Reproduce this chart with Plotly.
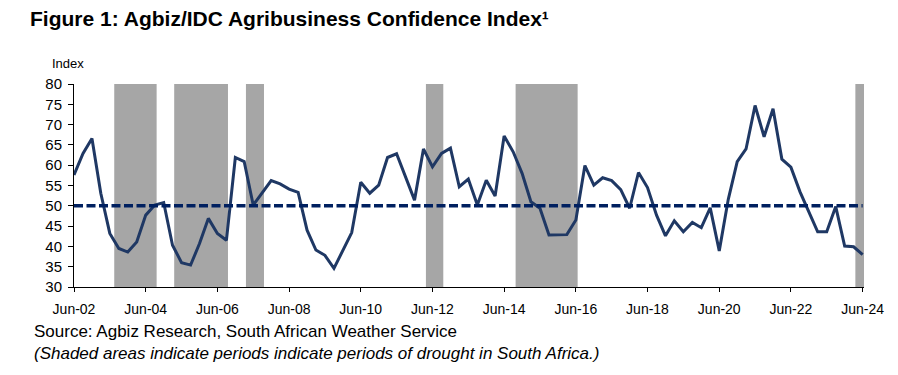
import pandas as pd
import plotly.graph_objects as go

# Quarterly Agbiz/IDC Agribusiness Confidence Index, Q2 2002 .. Q2 2024
abci_values = [
    57.6, 62.9, 66.6,
    53.1, 43.2, 39.5, 38.6,
    41.1, 47.7, 50.2, 50.8,
    40.3, 36.0, 35.4, 40.7,
    46.9, 43.2, 41.5, 61.9,
    60.9, 50.2, 53.3, 56.2,
    55.4, 54.1, 53.3, 44.0,
    39.1, 37.8, 34.6, 39.1,
    43.4, 55.8, 53.1, 55.1,
    61.9, 62.8, 57.2, 51.4,
    64.0, 59.6, 62.9, 64.2,
    54.7, 56.6, 50.2, 56.3,
    52.4, 67.2, 63.3, 58.0,
    51.0, 49.4, 42.8, 42.9,
    42.9, 46.5, 59.9, 55.1,
    56.9, 56.2, 54.0, 49.4,
    58.2, 54.5, 47.7, 42.6,
    46.3, 43.6, 45.9, 44.6,
    49.5, 38.9, 51.6, 60.9,
    64.0, 74.7, 67.0, 73.9,
    61.5, 59.5, 53.5, 48.5,
    43.6, 43.6, 49.8, 40.1,
    39.9, 38.0,
]
quarters = pd.date_range("2002-06-01", periods=len(abci_values), freq="3MS")
neutral_level = [50] * len(abci_values)

# Drought periods (shaded)
drought_start = ["2003-07-16", "2005-03-18", "2007-03-19", "2012-03-26", "2014-09-26", "2024-03-19"]
drought_end = ["2004-09-20", "2006-09-17", "2007-09-19", "2012-09-19", "2016-06-19", "2024-06-15"]

y_ticks = [30, 35, 40, 45, 50, 55, 60, 65, 70, 75, 80]

FONT = "Liberation Sans, Arial, sans-serif"
OFF = 8  # page body margin compensation

fig = go.Figure()

for s, e in zip(drought_start, drought_end):
    fig.add_shape(type="rect", xref="x", yref="y", x0=s, x1=e, y0=30, y1=80,
                  fillcolor="#A6A6A6", line_width=0, layer="below")

fig.add_trace(go.Scatter(x=quarters, y=abci_values, mode="lines",
                         line=dict(color="#1F3864", width=3), showlegend=False))
fig.add_trace(go.Scatter(x=quarters, y=neutral_level, mode="lines",
                         line=dict(color="#002060", width=3.5, dash="9px,3.5px"),
                         showlegend=False))

fig.update_layout(
    width=898, height=375,
    margin=dict(l=74 - OFF, r=42, t=84 - OFF, b=96),
    paper_bgcolor="white", plot_bgcolor="white",
    font=dict(family=FONT, color="black"),
    title=dict(text="<b>Figure 1: Agbiz/IDC Agribusiness Confidence Index¹</b>",
               x=(30 - OFF) / 898, xanchor="left", xref="container",
               y=1 - (19 - OFF) / 375, yanchor="middle", yref="container",
               font=dict(size=21, family=FONT, color="black")),
    xaxis=dict(type="date", range=["2002-06-01", "2024-06-15"],
               tick0="2002-06-01", dtick="M24", tickformat="%b-%y",
               showgrid=False, zeroline=False, showline=True, linecolor="black", linewidth=1,
               ticks="outside", ticklen=4, tickcolor="black", tickwidth=1,
               ticklabelstandoff=5,
               tickfont=dict(size=14, family=FONT, color="black")),
    yaxis=dict(range=[30, 80], tickvals=y_ticks,
               showgrid=False, zeroline=False, showline=True, linecolor="black", linewidth=1,
               ticks="outside", ticklen=5, tickcolor="black", tickwidth=1,
               ticklabelstandoff=3,
               tickfont=dict(size=15, family=FONT, color="black")),
)

fig.add_annotation(text="Index", xref="paper", yref="paper",
                   x=(50 - 74) / 790, y=(287 - 64) / 203, xanchor="left", yanchor="middle",
                   showarrow=False, font=dict(size=13, family=FONT, color="black"))
fig.add_annotation(text="Source: Agbiz Research, South African Weather Service",
                   xref="paper", yref="paper",
                   x=(32 - 74) / 790, y=(287 - 331) / 203, xanchor="left", yanchor="middle",
                   showarrow=False, font=dict(size=17, family=FONT, color="black"))
fig.add_annotation(text="<i>(Shaded areas indicate periods indicate periods of drought in South Africa.)</i>",
                   xref="paper", yref="paper",
                   x=(32 - 74) / 790, y=(287 - 353) / 203, xanchor="left", yanchor="middle",
                   showarrow=False, font=dict(size=17, family=FONT, color="black"))

fig.write_html("out.html")
